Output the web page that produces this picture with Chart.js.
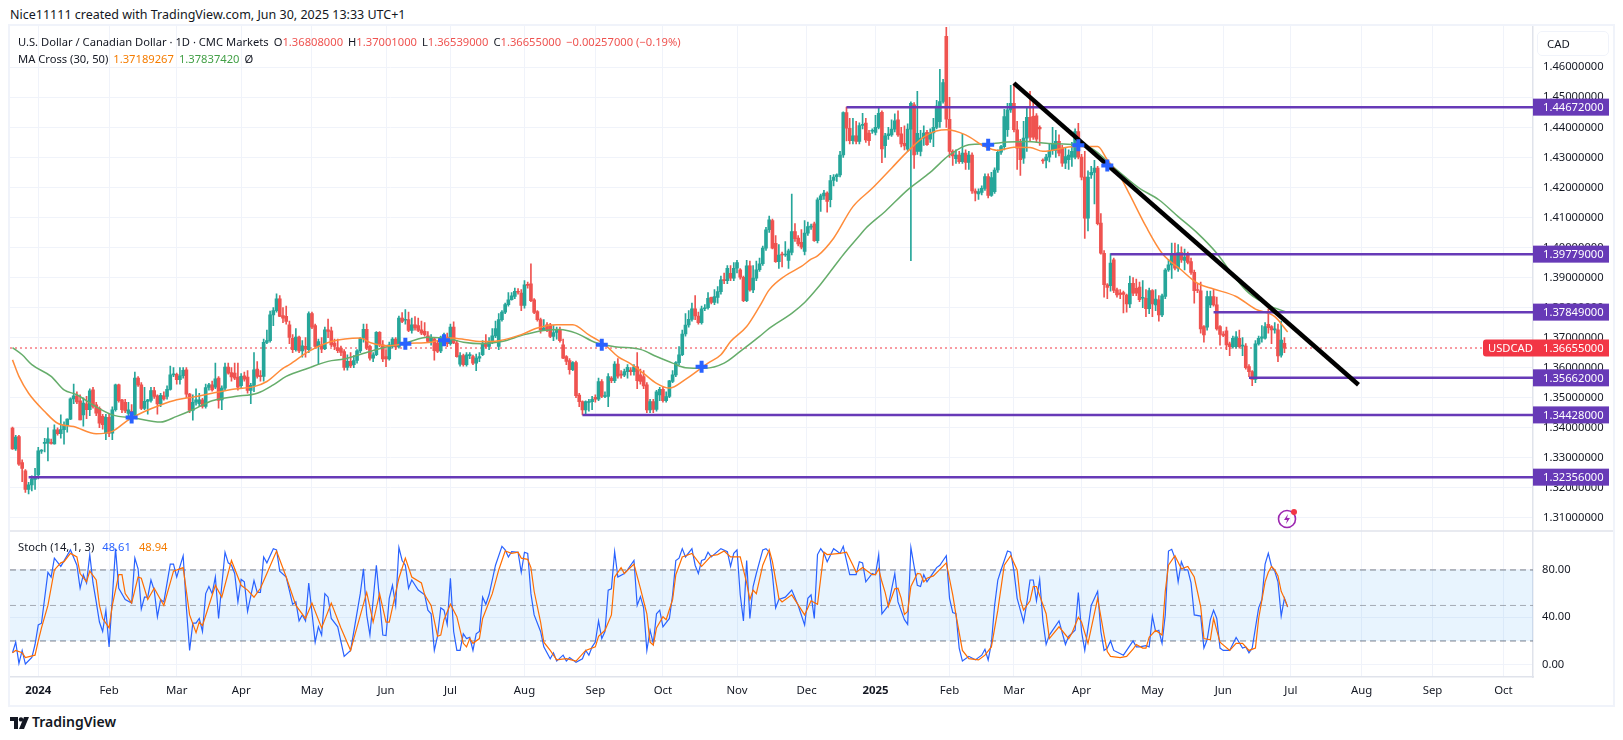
<!DOCTYPE html>
<html><head><meta charset="utf-8"><title>USD/CAD</title>
<script src="https://cdn.jsdelivr.net/npm/chart.js@4"></script>
<style>
html,body{margin:0;padding:0;background:#fff;width:1623px;height:740px;overflow:hidden;font-family:"Noto Sans",sans-serif;color:#131722}
#wrap{position:absolute;left:10px;top:26px;width:1603px;height:679px}
#wrap:after{content:"";position:absolute;left:-2px;top:-2px;right:-2px;bottom:-2px;border:2px solid #f0f3fa;pointer-events:none}
canvas{position:absolute;left:0;top:0}
.t{position:absolute;white-space:nowrap;font-size:11.2px;line-height:16px}
.t i{font-style:normal;margin-left:5px}
.red{color:#ef5350}.or{color:#f57c00}.gr{color:#43a047}.bl{color:#2962ff}
#cad{position:absolute;left:1537px;top:31px;width:72px;height:25px;border:1px solid #f0f3fa;border-radius:5px;box-sizing:border-box;font-size:11.4px;line-height:24px;padding-left:9px}
</style></head><body>
<div class="t" style="left:10px;top:7px;font-size:12.5px">Nice11111 created with TradingView.com, Jun 30, 2025 13:33 UTC+1</div>
<div id="wrap"><canvas id="c" width="1603" height="679"></canvas></div>
<div class="t" style="left:18px;top:34px">U.S. Dollar / Canadian Dollar · 1D · CMC Markets<i>O</i><span class="red">1.36808000</span><i>H</i><span class="red">1.37001000</span><i>L</i><span class="red">1.36539000</span><i>C</i><span class="red">1.36655000</span><i class="red">−0.00257000 (−0.19%)</i></div>
<div class="t" style="left:18px;top:51px">MA Cross (30, 50)<i class="or">1.37189267</i><i class="gr">1.37837420</i><i>Ø</i></div>
<div class="t" style="left:18px;top:539px">Stoch (14, 1, 3)<i class="bl" style="margin-left:8px">48.61</i><i class="or" style="margin-left:8px">48.94</i></div>
<div id="cad">CAD</div>
<svg style="position:absolute;left:1277px;top:507px" width="22" height="22" viewBox="0 0 22 22"><circle cx="10" cy="12" r="8.5" fill="none" stroke="#9c27b0" stroke-width="1.6"/><path d="M11 7 7 13h3l-1 4 4-6h-3z" fill="#9c27b0"/><circle cx="17" cy="5" r="3" fill="#f23645"/></svg>
<svg style="position:absolute;left:10px;top:717px" width="20" height="12" viewBox="0 0 20 12"><path d="M0 0h8v12H4V4H0z" fill="#131722"/><circle cx="11" cy="2.4" r="2.2" fill="#131722"/><path d="M14 0h5l-5 12H9z" fill="#131722"/></svg>
<div class="t" style="left:32px;top:714px;font-size:14px;font-weight:600">TradingView</div>
<script>
const opens=[
1.3399,1.3330,1.3371,1.3284,1.3257,1.3195,1.3210,1.3228,1.3243,1.3322,
1.3348,1.3349,1.3350,1.3346,1.3393,1.3380,1.3394,1.3408,1.3429,1.3496,
1.3506,1.3490,1.3443,1.3480,1.3460,1.3526,1.3476,1.3465,1.3438,1.3382,
1.3435,1.3382,1.3460,1.3543,1.3493,1.3485,1.3448,1.3455,1.3443,1.3565,
1.3543,1.3464,1.3488,1.3491,1.3524,1.3506,1.3479,1.3506,1.3504,1.3528,
1.3576,1.3578,1.3560,1.3573,1.3593,1.3512,1.3458,1.3485,1.3480,1.3493,
1.3471,1.3534,1.3543,1.3535,1.3565,1.3493,1.3532,1.3602,1.3584,1.3582,
1.3569,1.3540,1.3573,1.3569,1.3524,1.3541,1.3595,1.3573,1.3571,1.3684,
1.3690,1.3776,1.3790,1.3829,1.3773,1.3771,1.3743,1.3698,1.3660,1.3702,
1.3656,1.3671,1.3660,1.3780,1.3740,1.3671,1.3676,1.3663,1.3726,1.3723,
1.3682,1.3667,1.3665,1.3654,1.3601,1.3621,1.3610,1.3624,1.3656,1.3698,
1.3728,1.3671,1.3632,1.3643,1.3718,1.3676,1.3637,1.3629,1.3671,1.3695,
1.3669,1.3765,1.3758,1.3760,1.3724,1.3743,1.3740,1.3726,1.3721,1.3706,
1.3687,1.3696,1.3682,1.3656,1.3700,1.3702,1.3680,1.3735,1.3682,1.3612,
1.3640,1.3610,1.3640,1.3637,1.3615,1.3632,1.3643,1.3682,1.3671,1.3684,
1.3706,1.3671,1.3760,1.3785,1.3810,1.3826,1.3837,1.3854,1.3848,1.3807,
1.3876,1.3879,1.3826,1.3787,1.3760,1.3726,1.3743,1.3743,1.3704,1.3717,
1.3728,1.3676,1.3637,1.3624,1.3593,1.3617,1.3509,1.3487,1.3459,1.3484,
1.3487,1.3501,1.3495,1.3554,1.3504,1.3504,1.3565,1.3557,1.3612,1.3578,
1.3575,1.3587,1.3592,1.3587,1.3603,1.3576,1.3570,1.3543,1.3459,1.3487,
1.3461,1.3509,1.3528,1.3490,1.3504,1.3554,1.3576,1.3617,1.3643,1.3712,
1.3742,1.3761,1.3796,1.3772,1.3750,1.3796,1.3800,1.3834,1.3817,1.3834,
1.3853,1.3892,1.3890,1.3914,1.3898,1.3931,1.3926,1.3901,1.3823,1.3939,
1.3859,1.3898,1.3926,1.3946,1.3998,1.4059,1.4090,1.4014,1.3953,1.3977,
1.3975,1.3957,1.3984,1.4053,1.4031,1.4017,1.3987,1.4048,1.4068,1.4079,
1.4023,1.4159,1.4172,1.4181,1.4159,1.4223,1.4236,1.4242,1.4308,1.4449,
1.4397,1.4356,1.4372,1.4353,1.4406,1.4414,1.4381,1.4387,1.4383,1.4400,
1.4450,1.4339,1.4372,1.4375,1.4394,1.4425,1.4378,1.4347,1.4327,1.4394,
1.4475,1.4320,1.4320,1.4364,1.4383,1.4361,1.4381,1.4400,1.4419,1.4486,
1.4703,1.4427,1.4320,1.4296,1.4308,1.4286,1.4314,1.4283,1.4308,1.4188,
1.4178,1.4183,1.4197,1.4236,1.4173,1.4186,1.4258,1.4317,1.4336,1.4392,
1.4458,1.4480,1.4392,1.4349,1.4297,1.4364,1.4433,1.4437,1.4438,1.4400,
1.4291,1.4290,1.4301,1.4325,1.4323,1.4353,1.4331,1.4281,1.4292,1.4301,
1.4301,1.4386,1.4301,1.4234,1.4098,1.4242,1.4250,1.4264,1.4081,1.3981,
1.3876,1.3873,1.3959,1.3859,1.3848,1.3850,1.3842,1.3812,1.3881,1.3864,
1.3868,1.3831,1.3831,1.3796,1.3857,1.3809,1.3826,1.3776,1.3837,1.3925,
1.3942,1.3981,1.3931,1.3983,1.3957,1.3975,1.3953,1.3917,1.3860,1.3856,
1.3737,1.3735,1.3809,1.3837,1.3809,1.3737,1.3712,1.3723,1.3679,1.3670,
1.3670,1.3698,1.3672,1.3672,1.3604,1.3587,1.3561,1.3679,1.3698,1.3698,
1.3744,1.3737,1.3726,1.3726,1.3642,1.3681];
const closes=[
1.3330,1.3369,1.3279,1.3265,1.3195,1.3210,1.3230,1.3238,1.3323,1.3324,
1.3350,1.3363,1.3348,1.3393,1.3380,1.3394,1.3408,1.3429,1.3496,1.3506,
1.3486,1.3426,1.3482,1.3460,1.3523,1.3471,1.3449,1.3415,1.3410,1.3435,
1.3382,1.3460,1.3543,1.3490,1.3460,1.3456,1.3460,1.3432,1.3565,1.3543,
1.3464,1.3488,1.3493,1.3524,1.3504,1.3479,1.3508,1.3496,1.3528,1.3576,
1.3578,1.3560,1.3573,1.3591,1.3512,1.3458,1.3485,1.3493,1.3493,1.3471,
1.3534,1.3543,1.3526,1.3563,1.3491,1.3532,1.3602,1.3582,1.3569,1.3565,
1.3535,1.3571,1.3562,1.3524,1.3541,1.3593,1.3571,1.3570,1.3684,1.3690,
1.3776,1.3790,1.3829,1.3771,1.3765,1.3754,1.3701,1.3660,1.3702,1.3656,
1.3673,1.3662,1.3780,1.3735,1.3671,1.3687,1.3662,1.3726,1.3721,1.3676,
1.3671,1.3657,1.3651,1.3601,1.3621,1.3606,1.3624,1.3656,1.3698,1.3728,
1.3665,1.3632,1.3643,1.3718,1.3676,1.3629,1.3629,1.3676,1.3695,1.3669,
1.3765,1.3754,1.3760,1.3724,1.3743,1.3732,1.3724,1.3715,1.3710,1.3687,
1.3698,1.3657,1.3654,1.3702,1.3702,1.3680,1.3735,1.3682,1.3637,1.3640,
1.3610,1.3643,1.3642,1.3615,1.3632,1.3637,1.3682,1.3671,1.3684,1.3706,
1.3730,1.3760,1.3785,1.3810,1.3826,1.3839,1.3854,1.3851,1.3807,1.3876,
1.3874,1.3823,1.3784,1.3760,1.3726,1.3732,1.3724,1.3704,1.3717,1.3728,
1.3690,1.3632,1.3621,1.3593,1.3617,1.3507,1.3487,1.3459,1.3487,1.3487,
1.3495,1.3495,1.3554,1.3504,1.3506,1.3570,1.3557,1.3612,1.3572,1.3575,
1.3587,1.3601,1.3587,1.3603,1.3557,1.3554,1.3539,1.3459,1.3487,1.3461,
1.3520,1.3528,1.3490,1.3504,1.3556,1.3576,1.3617,1.3643,1.3712,1.3742,
1.3761,1.3796,1.3772,1.3750,1.3796,1.3798,1.3831,1.3817,1.3837,1.3853,
1.3892,1.3890,1.3931,1.3898,1.3931,1.3950,1.3901,1.3823,1.3939,1.3859,
1.3898,1.3926,1.3946,1.3998,1.4059,1.4092,1.3998,1.3953,1.3975,1.3975,
1.3977,1.3989,1.4053,1.4029,1.4012,1.4001,1.4048,1.4070,1.4070,1.4023,
1.4159,1.4172,1.4181,1.4153,1.4223,1.4234,1.4242,1.4308,1.4449,1.4397,
1.4356,1.4372,1.4353,1.4406,1.4410,1.4358,1.4356,1.4390,1.4400,1.4447,
1.4328,1.4372,1.4378,1.4394,1.4422,1.4375,1.4345,1.4338,1.4394,1.4480,
1.4308,1.4380,1.4364,1.4381,1.4342,1.4381,1.4400,1.4471,1.4486,1.4549,
1.4427,1.4320,1.4305,1.4308,1.4286,1.4314,1.4283,1.4308,1.4188,1.4181,
1.4186,1.4197,1.4236,1.4173,1.4233,1.4258,1.4317,1.4336,1.4436,1.4458,
1.4480,1.4392,1.4331,1.4292,1.4364,1.4433,1.4367,1.4367,1.4361,1.4395,
1.4288,1.4301,1.4320,1.4347,1.4353,1.4314,1.4281,1.4303,1.4308,1.4320,
1.4386,1.4301,1.4234,1.4098,1.4234,1.4250,1.4264,1.4079,1.3981,1.3876,
1.3867,1.3948,1.3857,1.3842,1.3844,1.3844,1.3812,1.3881,1.3848,1.3848,
1.3826,1.3833,1.3796,1.3857,1.3812,1.3828,1.3776,1.3839,1.3925,1.3942,
1.3981,1.3931,1.3983,1.3959,1.3968,1.3950,1.3917,1.3856,1.3857,1.3729,
1.3709,1.3837,1.3837,1.3809,1.3729,1.3711,1.3707,1.3676,1.3670,1.3698,
1.3703,1.3670,1.3674,1.3600,1.3587,1.3561,1.3679,1.3698,1.3703,1.3737,
1.3733,1.3726,1.3729,1.3639,1.3692,1.3665];
const highs=[
1.3402,1.3375,1.3375,1.3293,1.3261,1.3218,1.3240,1.3265,1.3335,1.3327,
1.3365,1.3400,1.3362,1.3410,1.3400,1.3443,1.3420,1.3430,1.3500,1.3545,
1.3520,1.3510,1.3500,1.3505,1.3530,1.3535,1.3485,1.3470,1.3445,1.3445,
1.3445,1.3470,1.3545,1.3545,1.3495,1.3495,1.3485,1.3477,1.3585,1.3570,
1.3550,1.3535,1.3495,1.3535,1.3535,1.3510,1.3515,1.3520,1.3540,1.3605,
1.3600,1.3582,1.3600,1.3600,1.3600,1.3515,1.3510,1.3530,1.3515,1.3498,
1.3545,1.3548,1.3555,1.3615,1.3570,1.3540,1.3615,1.3615,1.3600,1.3615,
1.3615,1.3580,1.3585,1.3590,1.3548,1.3650,1.3620,1.3590,1.3695,1.3725,
1.3788,1.3800,1.3846,1.3840,1.3800,1.3805,1.3755,1.3710,1.3730,1.3705,
1.3690,1.3700,1.3786,1.3785,1.3745,1.3695,1.3700,1.3735,1.3762,1.3735,
1.3695,1.3695,1.3672,1.3660,1.3643,1.3650,1.3640,1.3660,1.3700,1.3745,
1.3745,1.3675,1.3650,1.3720,1.3720,1.3690,1.3660,1.3685,1.3700,1.3700,
1.3772,1.3783,1.3793,1.3785,1.3765,1.3770,1.3765,1.3755,1.3750,1.3720,
1.3710,1.3700,1.3690,1.3705,1.3715,1.3715,1.3745,1.3753,1.3690,1.3650,
1.3645,1.3650,1.3650,1.3642,1.3645,1.3650,1.3690,1.3710,1.3700,1.3730,
1.3755,1.3780,1.3790,1.3815,1.3850,1.3850,1.3865,1.3863,1.3860,1.3890,
1.3885,1.3946,1.3830,1.3790,1.3765,1.3760,1.3750,1.3748,1.3740,1.3735,
1.3735,1.3695,1.3640,1.3630,1.3620,1.3622,1.3515,1.3490,1.3490,1.3495,
1.3505,1.3510,1.3565,1.3560,1.3520,1.3580,1.3570,1.3620,1.3630,1.3590,
1.3595,1.3610,1.3600,1.3610,1.3650,1.3595,1.3590,1.3550,1.3495,1.3495,
1.3525,1.3535,1.3535,1.3520,1.3558,1.3590,1.3620,1.3670,1.3725,1.3780,
1.3790,1.3815,1.3840,1.3785,1.3805,1.3810,1.3850,1.3835,1.3860,1.3870,
1.3905,1.3915,1.3940,1.3940,1.3950,1.3957,1.3930,1.3905,1.3957,1.3955,
1.3940,1.3955,1.3965,1.4005,1.4067,1.4105,1.4095,1.4040,1.4010,1.3985,
1.4020,1.3995,1.4178,1.4080,1.4040,1.4060,1.4090,1.4085,1.4078,1.4085,
1.4165,1.4178,1.4190,1.4185,1.4240,1.4243,1.4245,1.4320,1.4452,1.4467,
1.4430,1.4430,1.4420,1.4415,1.4447,1.4430,1.4390,1.4395,1.4440,1.4465,
1.4455,1.4380,1.4400,1.4425,1.4445,1.4455,1.4400,1.4405,1.4412,1.4485,
1.4482,1.4520,1.4390,1.4405,1.4390,1.4395,1.4430,1.4490,1.4593,1.4560,
1.4733,1.4500,1.4325,1.4325,1.4320,1.4378,1.4325,1.4320,1.4315,1.4195,
1.4195,1.4205,1.4245,1.4245,1.4250,1.4265,1.4325,1.4340,1.4460,1.4480,
1.4540,1.4545,1.4420,1.4360,1.4420,1.4470,1.4520,1.4495,1.4446,1.4405,
1.4295,1.4310,1.4345,1.4400,1.4390,1.4375,1.4340,1.4330,1.4325,1.4350,
1.4395,1.4413,1.4310,1.4320,1.4255,1.4270,1.4290,1.4270,1.4113,1.3990,
1.3880,1.3980,1.3965,1.3865,1.3860,1.3855,1.3845,1.3905,1.3900,1.3895,
1.3885,1.3890,1.3860,1.3865,1.3860,1.3860,1.3840,1.3845,1.3930,1.3960,
1.4015,1.4015,1.4010,1.4002,1.3995,1.3985,1.3965,1.3925,1.3880,1.3885,
1.3740,1.3855,1.3855,1.3860,1.3835,1.3740,1.3720,1.3735,1.3685,1.3705,
1.3720,1.3725,1.3700,1.3680,1.3610,1.3590,1.3690,1.3705,1.3740,1.3750,
1.3795,1.3740,1.3750,1.3745,1.3755,1.3700];
const lows=[
1.3328,1.3325,1.3275,1.3221,1.3185,1.3180,1.3190,1.3195,1.3230,1.3315,
1.3320,1.3290,1.3345,1.3345,1.3375,1.3365,1.3345,1.3385,1.3427,1.3480,
1.3480,1.3426,1.3405,1.3430,1.3440,1.3465,1.3440,1.3400,1.3395,1.3360,
1.3370,1.3360,1.3455,1.3485,1.3450,1.3450,1.3425,1.3428,1.3430,1.3538,
1.3460,1.3460,1.3445,1.3485,1.3498,1.3445,1.3470,1.3492,1.3495,1.3525,
1.3570,1.3545,1.3545,1.3565,1.3500,1.3450,1.3425,1.3475,1.3470,1.3465,
1.3465,1.3525,1.3522,1.3530,1.3465,1.3460,1.3525,1.3578,1.3555,1.3560,
1.3525,1.3530,1.3555,1.3515,1.3480,1.3520,1.3565,1.3555,1.3555,1.3680,
1.3685,1.3740,1.3785,1.3770,1.3750,1.3745,1.3680,1.3650,1.3655,1.3650,
1.3635,1.3635,1.3650,1.3730,1.3665,1.3610,1.3650,1.3660,1.3700,1.3670,
1.3660,1.3650,1.3640,1.3592,1.3592,1.3600,1.3600,1.3615,1.3650,1.3685,
1.3660,1.3625,1.3620,1.3640,1.3670,1.3620,1.3603,1.3625,1.3665,1.3660,
1.3665,1.3750,1.3745,1.3720,1.3715,1.3725,1.3720,1.3710,1.3705,1.3685,
1.3675,1.3625,1.3650,1.3650,1.3695,1.3670,1.3675,1.3680,1.3635,1.3605,
1.3605,1.3605,1.3630,1.3610,1.3590,1.3620,1.3640,1.3665,1.3660,1.3680,
1.3700,1.3660,1.3755,1.3780,1.3805,1.3825,1.3830,1.3845,1.3790,1.3798,
1.3865,1.3820,1.3780,1.3755,1.3715,1.3725,1.3720,1.3700,1.3690,1.3695,
1.3685,1.3630,1.3610,1.3578,1.3590,1.3500,1.3470,1.3443,1.3445,1.3455,
1.3460,1.3485,1.3490,1.3500,1.3500,1.3470,1.3550,1.3550,1.3565,1.3565,
1.3570,1.3565,1.3575,1.3575,1.3530,1.3545,1.3530,1.3450,1.3450,1.3450,
1.3455,1.3490,1.3485,1.3485,1.3500,1.3550,1.3570,1.3610,1.3640,1.3705,
1.3735,1.3755,1.3760,1.3745,1.3745,1.3790,1.3795,1.3812,1.3810,1.3815,
1.3845,1.3880,1.3880,1.3890,1.3890,1.3915,1.3895,1.3820,1.3820,1.3855,
1.3850,1.3890,1.3920,1.3940,1.3990,1.4050,1.3995,1.3950,1.3930,1.3935,
1.3970,1.3930,1.3975,1.4020,1.4005,1.3995,1.3975,1.4040,1.4060,1.4020,
1.4015,1.4120,1.4160,1.4118,1.4135,1.4205,1.4220,1.4235,1.4300,1.4355,
1.4345,1.4345,1.4345,1.4345,1.4395,1.4350,1.4340,1.4380,1.4375,1.4395,
1.4282,1.4300,1.4360,1.4370,1.4385,1.4370,1.4335,1.4325,1.4320,1.3956,
1.4263,1.4310,1.4305,1.4340,1.4340,1.4350,1.4336,1.4395,1.4400,1.4480,
1.4400,1.4300,1.4273,1.4280,1.4280,1.4280,1.4260,1.4260,1.4180,1.4155,
1.4160,1.4175,1.4190,1.4165,1.4170,1.4180,1.4250,1.4310,1.4325,1.4370,
1.4450,1.4385,1.4260,1.4240,1.4280,1.4320,1.4355,1.4360,1.4350,1.4340,
1.4280,1.4265,1.4285,1.4310,1.4300,1.4305,1.4270,1.4262,1.4260,1.4270,
1.4295,1.4295,1.4225,1.4030,1.4055,1.4230,1.4145,1.4075,1.3978,1.3835,
1.3830,1.3855,1.3850,1.3835,1.3830,1.3782,1.3785,1.3800,1.3840,1.3840,
1.3820,1.3800,1.3770,1.3780,1.3770,1.3790,1.3755,1.3770,1.3830,1.3920,
1.3897,1.3925,1.3920,1.3950,1.3925,1.3945,1.3910,1.3815,1.3850,1.3715,
1.3685,1.3725,1.3800,1.3805,1.3725,1.3675,1.3703,1.3660,1.3640,1.3665,
1.3665,1.3665,1.3640,1.3595,1.3570,1.3540,1.3550,1.3675,1.3685,1.3695,
1.3715,1.3680,1.3715,1.3620,1.3635,1.3650];

const ma30Bars=[0,2,5,10,14,19,26,31,36,41,46,51,56,62,69,75,79,84,86,92,99,108,111,117,122,130,136,141,145,151,158,163,169,174,179,184,188,192,196,200,204,209,216,220,223,228,232,235,240,245,248,250,255,261,267,273,278,284,290,296,302,306,311,316,320,330,337,340,344,347,352,357,363,368,373,380,386,392,396];
const ma30Vals=[1.3626,1.3571,1.3515,1.3454,1.3415,1.3404,1.3380,1.3388,1.3426,1.3454,1.3476,1.3493,1.3502,1.3515,1.3529,1.3537,1.3554,1.3598,1.3610,1.3654,1.3687,1.3699,1.3684,1.3673,1.3680,1.3685,1.3699,1.3693,1.3687,1.3690,1.3710,1.3732,1.3743,1.3743,1.3709,1.3676,1.3637,1.3613,1.3581,1.3548,1.3532,1.3561,1.3615,1.3643,1.3687,1.3737,1.3804,1.3859,1.3906,1.3937,1.3961,1.3972,1.4031,1.4136,1.4197,1.4264,1.4320,1.4375,1.4392,1.4375,1.4336,1.4323,1.4334,1.4333,1.4320,1.4336,1.4336,1.4292,1.4236,1.4175,1.4070,1.3981,1.3925,1.3881,1.3862,1.3837,1.3795,1.3770,1.3719];
const ma50Bars=[0,3,6,12,16,20,25,31,38,46,51,56,62,69,76,81,85,92,98,103,111,117,122,129,136,140,146,152,159,165,170,175,181,187,195,200,205,209,215,221,226,232,235,242,246,250,254,258,263,265,271,278,285,291,297,303,309,315,321,330,335,343,350,356,362,368,374,379,384,391,396];
const ma50Vals=[1.3667,1.3643,1.3610,1.3571,1.3526,1.3510,1.3476,1.3443,1.3432,1.3419,1.3438,1.3460,1.3490,1.3504,1.3515,1.3543,1.3571,1.3599,1.3621,1.3629,1.3654,1.3671,1.3682,1.3701,1.3695,1.3685,1.3680,1.3687,1.3710,1.3724,1.3727,1.3715,1.3684,1.3670,1.3661,1.3637,1.3615,1.3600,1.3598,1.3615,1.3654,1.3704,1.3731,1.3781,1.3817,1.3865,1.3920,1.3976,1.4039,1.4064,1.4120,1.4192,1.4250,1.4308,1.4342,1.4345,1.4351,1.4353,1.4347,1.4342,1.4331,1.4258,1.4197,1.4159,1.4103,1.4048,1.3981,1.3909,1.3848,1.3803,1.3784];

const kBars=[0,1,2,3,4,6,7,8,9,11,12,13,15,18,20,21,22,23,24,25,26,27,28,29,30,32,33,35,37,38,39,40,41,42,43,44,45,46,47,49,50,51,53,54,55,56,57,58,59,60,61,62,63,64,66,67,68,69,70,71,72,73,75,76,77,78,79,81,82,83,85,87,88,89,90,91,92,94,95,96,97,98,99,101,103,105,108,109,110,111,113,115,116,117,118,119,120,121,122,123,124,126,
128,129,130,131,132,133,134,135,136,137,138,139,140,141,142,143,144,145,146,147,148,150,152,153,154,155,157,158,159,160,161,162,164,165,167,168,169,171,172,173,175,177,178,179,180,181,182,183,184,185,186,187,188,190,191,193,194,195,196,197,198,199,200,201,202,204,205,206,207,208,209,211,212,213,214,215,216,217,220,222,223,224,225,226,227,228,229,230,231,233,234,235,236,237,238,240,242,244,246,247,248,249,250,251,252,253,255,256,257,
258,260,262,263,264,265,267,268,269,270,272,274,275,277,278,279,281,282,283,284,287,288,290,291,292,293,294,295,297,299,301,302,303,304,305,306,307,309,310,311,312,314,315,316,317,318,319,320,321,322,323,325,327,328,330,331,332,333,335,337,338,339,340,341,342,345,348,349,350,352,353,354,355,356,357,358,359,360,361,362,363,364,365,366,367,369,370,371,372,373,374,375,376,378,380,382,383,384,385,386,387,388,389,390,391,392,393,394,395,396];
const kVals=[10,19,1,12,0.5,6,17,33.5,35,78,74,90,83,97,84,64.5,76,69,93,69,53,36,28,46,15,98,64.5,55,52,90,81,47,57,57,71.5,63,40.5,55,53,85,85,74,92,48,12,35,35,39,28,60,66,60,74,39,95,86,84,77,53,72,70,45,71,61,61,91,86,98,97,79,74,51,53,37,42,37,69,19,32,25,60,57,39,32,7,12,60,81,42,25,84,25,24.5,56,67,50,99,88,84,64.5,71.5,63,
59,46,43,12,24,48,46,34,73,28,12,12,26,22,23,12,26,28,57,51,59,84,100,97,91,95.5,95,78,95,94,60,42,28,15,5,10,3,8,3,6,2,5,12,8,15,19,37,22,28,63,64,95.5,74,77,80,88,50,57.5,48,12,29,18,43,46,32,39,59,88,90,98,91,98,84,77,88,89,95,91,98,95.5,83,94,97,59,37,88,39,66,77,97,98,95,76,48,55,57,63,50,33.5,56,59,39,93,98,94,87,98,96,94,
100,76,76,87,86,70,77,76,93,43,50,77,53,38,34,99,67,66,76,70,82,84,92,56,44,43,14,3,7,4,8,13,4,18,50,71.5,80,96,95,79,56,36,52,71.5,71.5,54,72,37,17,25,29,37,17,24,29,61,28,12,50,62,28,12,14,20,12,8,20,15,15,16,15,41,28,29,18,42,96,97.5,90,70,87,80,80,69,42,41,14,21,38,46,39,14,12,12,23,14,15,10,14,31,48,55,85,94,83,79,70,41,56,48.61];
const dBars=[0,1,3,4,7,8,9,11,13,15,16,18,20,21,23,24,26,27,28,30,31,33,34,35,37,39,40,42,44,47,50,53,55,57,58,59,61,63,65,68,69,71,73,75,77,79,82,85,88,91,93,96,99,102,105,106,110,112,114,116,117,120,122,124,127,
128,130,132,133,134,136,138,140,141,142,143,145,146,149,151,153,155,157,158,160,161,162,164,165,167,169,172,175,178,181,182,184,186,187,189,190,193,195,197,198,199,200,202,203,205,206,208,211,214,217,219,221,223,226,228,229,230,231,233,235,236,238,239,242,246,248,250,252,253,257,
259,261,262,264,267,268,269,270,271,272,274,275,276,277,278,279,281,282,283,284,286,290,292,293,295,297,300,302,304,306,308,310,312,313,314,316,317,318,321,322,325,328,329,331,332,334,337,339,340,341,344,346,348,349,351,352,353,355,357,358,359,361,363,365,367,369,370,372,373,375,378,380,382,384,386,387,389,390,391,392,393,394,395,396];
const dVals=[10,12,10,6,8,20,31,50,80,86,87,94,91,77,70,79,71.5,50,39,31,50,76,76,60,52,74,73,55,64.5,50,79,82,42,27,36,33,50,67,57,88,81,67,63,57,64.5,77,96,74,50,39,52,31,52,31,12,22,61,36,60,36,36,73,90,74,69,
59,50,24,25,38,51,40.5,18,15,22,18,22,39,60,80,96,94,95,90,89,82,62,36,19,12,4,5,3,12,15,24,29,42,74,82,77,85,64.5,43,19,16.6,31,40.5,38,55,76,91,94,83,92,93,96,91,91,69,55,63,60,84,97,87,56,53,59,42,54,51,95,93,94,
95,84,78,82,76,76,81,70,61,49,64,64.5,56,42.5,45,66,77,76.6,70,73,75,86,59,42,12,5,4,8,15,46,84,92,80,55,46,54,66,66,43,22,32,22,26.5,40,36,18,56,25,11,7,6,7,13,17,14,14,23,29,25,62,84,92,81,83,74,49,22,21,39,19,12,18,18,12,14,39,70,78,83,80,75,62,56,48.94];

const levelVals=[1.44672,1.39779,1.37849,1.35662,1.34428,1.32356];
const levelStarts=[259,341,373,384,177,5];
const lastPrice=1.36655;
const crossBars=[37,122,134,183,214,303,331,340];
const crossVals=[1.3434,1.3680,1.3691,1.3676,1.3603,1.4342,1.4340,1.4273];
const trendBars=[311,418];
const trendVals=[1.4547,1.3543];
const priceTicks=[1.31,1.32,1.33,1.34,1.35,1.36,1.37,1.38,1.39,1.40,1.41,1.42,1.43,1.44,1.45,1.46];
const stochTicks=[0,40,80];
const timeTickBars=[8,30,51,71,93,116,136,159,181,202,225,246.6,268,291,311,332,354,376,397,419,441,463];
const timeTickLabels=["2024","Feb","Mar","Apr","May","Jun","Jul","Aug","Sep","Oct","Nov","Dec","2025","Feb","Mar","Apr","May","Jun","Jul","Aug","Sep","Oct"];

const XMIN=-0.776, XMAX=472.2;
const bull='#26a69a', bear='#ef5350', purple='#673ab7';
const FONT='"Noto Sans",sans-serif';
const candleColors=closes.map((c,i)=>c>=opens[i]?bull:bear);
const pts=(xs,ys)=>xs.map((x,i)=>({x,y:ys[i]}));
const line=(data,color,width,order,extra)=>Object.assign({type:'line',data,borderColor:color,borderWidth:width,pointRadius:0,order,yAxisID:'y',xAxisID:'x',fill:false,tension:0},extra||{});

const datasets=[
 {type:'bar',data:highs.map((h,i)=>({x:i,y:[lows[i],h]})),backgroundColor:candleColors,barThickness:1,grouped:false,order:20,yAxisID:'y',xAxisID:'x'},
 {type:'bar',data:opens.map((o,i)=>({x:i,y:[Math.min(o,closes[i]),Math.max(o,closes[i])]})),backgroundColor:candleColors,barThickness:3,minBarLength:1,grouped:false,order:19,yAxisID:'y',xAxisID:'x'},
 line([{x:XMIN,y:lastPrice},{x:XMAX,y:lastPrice}],'#f23645',1,21,{borderDash:[2,3]}),
 line(pts(ma50Bars,ma50Vals),'#66ad6b',1.5,12,{cubicInterpolationMode:'monotone'}),
 line(pts(ma30Bars,ma30Vals),'#ff8c3a',1.5,11,{cubicInterpolationMode:'monotone'}),
 ...levelVals.map((v,i)=>line([{x:levelStarts[i],y:v},{x:XMAX,y:v}],purple,2.5,9)),
 line(pts(trendBars,trendVals),'#000000',4.5,5),
 line(pts(crossBars,crossVals),'#2962ff',4,3,{showLine:false,pointStyle:'cross',pointRadius:6,pointBorderWidth:4,pointBorderColor:'#2962ff',pointBackgroundColor:'#2962ff'}),
 line([{x:XMIN,y:80},{x:XMAX,y:80}],'#787b86',1,30,{yAxisID:'y2',borderDash:[6,4],fill:'+1',backgroundColor:'rgba(33,150,243,0.1)'}),
 line([{x:XMIN,y:20},{x:XMAX,y:20}],'#787b86',1,31,{yAxisID:'y2',borderDash:[6,4]}),
 line([{x:XMIN,y:50},{x:XMAX,y:50}],'rgba(120,123,134,0.6)',1,29,{yAxisID:'y2',borderDash:[6,4]}),
 line(pts(kBars,kVals),'#2962ff',1.2,8,{yAxisID:'y2'}),
 line(pts(dBars,dVals),'#ff6d00',1.2,7,{yAxisID:'y2'})
];

const panePlugin={id:'pane',
 beforeDatasetsDraw(ch){const a=ch.chartArea,c=ch.ctx,y=ch.scales.y;c.save();c.strokeStyle='#e0e3eb';c.lineWidth=1.5;c.beginPath();c.moveTo(a.left,y.bottom);c.lineTo(ch.width,y.bottom);c.stroke();c.restore();},
 afterDraw(ch){
  const c=ch.ctx,y=ch.scales.y,a=ch.chartArea;
  c.save();c.font='11.2px '+FONT;c.textBaseline='middle';c.textAlign='left';
  const badge=(v,col)=>{const p=y.getPixelForValue(v);c.fillStyle=col;c.fillRect(a.right,p-8.5,76,17);c.fillStyle='#fff';c.fillText(v.toFixed(8),a.right+10,p+0.5);};
  levelVals.forEach(v=>badge(v,purple));
  badge(lastPrice,'#f23645');
  const p=y.getPixelForValue(lastPrice);
  c.fillStyle='#f23645';c.beginPath();c.roundRect(a.right-50,p-8.5,50,17,[3,0,0,3]);c.fill();
  c.fillStyle='#fff';c.fillText('USDCAD',a.right-45,p+0.5);
  c.restore();
 }};

const canvas=document.getElementById('c');
const chart=new Chart(canvas.getContext('2d'),{
 data:{datasets},
 plugins:[panePlugin],
 options:{responsive:false,maintainAspectRatio:false,animation:false,devicePixelRatio:1,events:[],
  layout:{padding:0,autoPadding:false},
  plugins:{legend:{display:false},tooltip:{enabled:false},title:{display:false}},
  scales:{
   x:{type:'linear',position:'bottom',offset:false,min:XMIN,max:XMAX,
    grid:{color:'#f0f3fa',drawTicks:false,tickLength:0,offset:false},border:{color:'#e0e3eb',width:1.5},
    afterBuildTicks(s){s.ticks=timeTickBars.map(value=>({value}));},
    afterFit(s){s.height=28;},
    ticks:{autoSkip:false,maxRotation:0,padding:7,color:'#131722',
     callback:(v,i)=>timeTickLabels[i],
     font:ctx=>({family:FONT,size:11.4,weight:(ctx.index===0||ctx.index===12)?'bold':'normal'})}},
   y:{type:'linear',position:'right',stack:'panes',stackWeight:505,min:1.30566,max:1.47382,
    grid:{color:'#f0f3fa',drawTicks:false,tickLength:0},border:{color:'#e0e3eb',width:1.5},
    afterBuildTicks(s){s.ticks=priceTicks.map(value=>({value}));},
    afterFit(s){s.width=80;},
    ticks:{padding:10,color:'#131722',autoSkip:false,font:{family:FONT,size:11.2},callback:v=>v.toFixed(8)}},
   y2:{type:'linear',position:'right',stack:'panes',stackWeight:146,min:-10.45,max:112.97,
    grid:{color:'#f0f3fa',drawTicks:false,tickLength:0},border:{color:'#e0e3eb',width:1.5},
    afterBuildTicks(s){s.ticks=stochTicks.map(value=>({value}));},
    afterFit(s){s.width=80;},
    ticks:{padding:9,color:'#131722',autoSkip:false,font:{family:FONT,size:11.2},callback:v=>v.toFixed(2)}}
  }}
});
// The stacked axes leave a strip above the plot; lift the canvas so the plot area starts on the frame.
const lift=Math.round(chart.chartArea.top);
if(lift>0){chart.resize(1603,679+lift);canvas.style.top=(-lift)+'px';}
</script>
</body></html>
